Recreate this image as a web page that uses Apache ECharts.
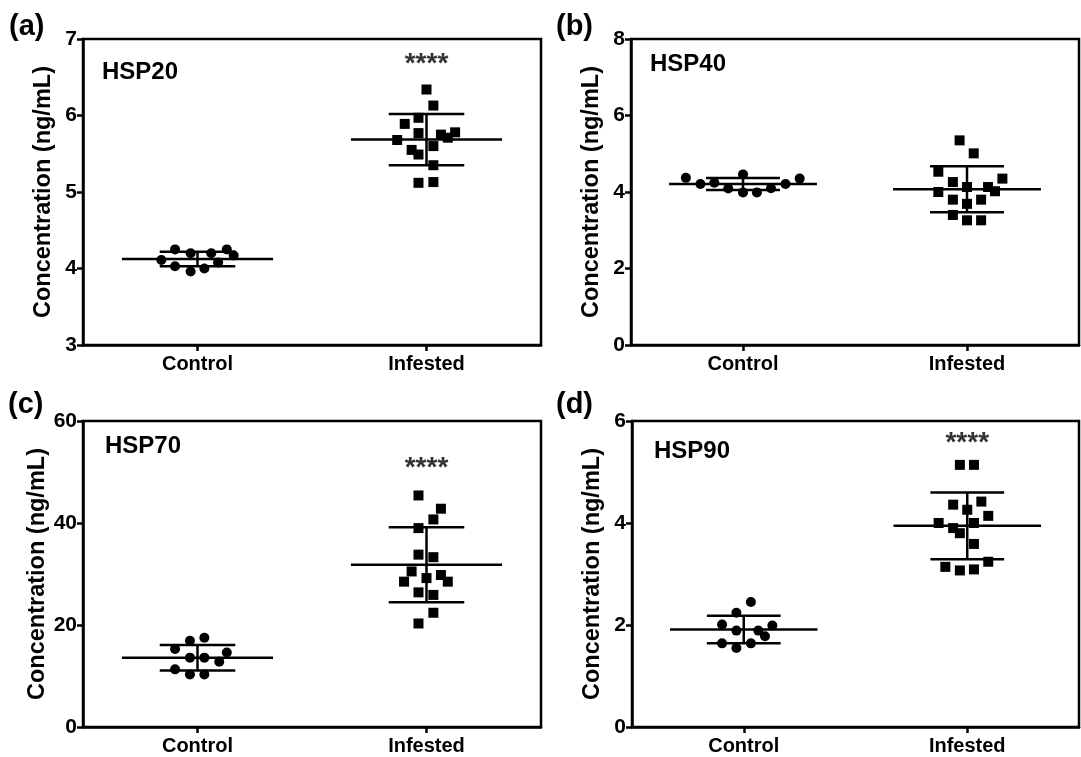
<!DOCTYPE html>
<html><head><meta charset="utf-8">
<script src="https://cdn.jsdelivr.net/npm/echarts@6/dist/echarts.min.js"></script>
<style>html,body{margin:0;padding:0;background:#fff}#c{width:1081px;height:757px}</style>
</head><body><div id="c"></div>
<script>
const categories = ['Control', 'Infested'];
const panelLabels = ['(a)', '(b)', '(c)', '(d)'];
const proteinNames = ['HSP20', 'HSP40', 'HSP70', 'HSP90'];
const yMins = [3, 0, 0, 0];
const yMaxs = [7, 8, 60, 6];
const yIntervals = [1, 2, 20, 2];
const yAxisTitle = 'Concentration (ng/mL)';

// HSP20
const hsp20Control = [4.25, 4.20, 4.20, 4.25, 4.17, 4.11, 4.03, 3.96, 4.00, 4.08];
const hsp20ControlJitter = [-0.098, -0.03, 0.06, 0.128, 0.158, -0.158, -0.098, -0.03, 0.03, 0.09];
const hsp20Infested = [6.34, 6.13, 5.97, 5.89, 5.77, 5.75, 5.78, 5.71, 5.68, 5.60, 5.55, 5.49, 5.35, 5.12, 5.13];
const hsp20InfestedJitter = [0, 0.03, -0.035, -0.095, -0.035, 0.063, 0.125, 0.093, -0.128, 0.03, -0.065, -0.035, 0.03, -0.035, 0.03];
const hsp20Mean = [4.125, 5.685];
const hsp20SD = [0.095, 0.335];

// HSP40
const hsp40Control = [4.37, 4.21, 4.24, 4.09, 4.46, 3.99, 3.99, 4.10, 4.21, 4.35];
const hsp40ControlJitter = [-0.255, -0.19, -0.128, -0.066, 0, 0, 0.062, 0.125, 0.19, 0.253];
const hsp40Infested = [5.35, 5.01, 4.53, 4.26, 4.35, 4.13, 4.13, 4.00, 4.02, 3.80, 3.80, 3.69, 3.40, 3.26, 3.26];
const hsp40InfestedJitter = [-0.033, 0.03, -0.128, -0.063, 0.158, 0, 0.094, -0.128, 0.125, -0.063, 0.063, 0, -0.063, 0, 0.063];
const hsp40Mean = [4.21, 4.07];
const hsp40SD = [0.155, 0.60];

// HSP70
const hsp70Control = [16.9, 17.5, 15.3, 14.6, 13.6, 13.6, 12.8, 11.3, 10.3, 10.3];
const hsp70ControlJitter = [-0.033, 0.03, -0.098, 0.128, -0.033, 0.03, 0.095, -0.098, -0.033, 0.03];
const hsp70Infested = [45.4, 42.8, 40.7, 39.0, 33.8, 33.3, 30.5, 29.8, 28.5, 29.2, 28.5, 26.4, 25.9, 22.4, 20.3];
const hsp70InfestedJitter = [-0.035, 0.063, 0.03, -0.035, -0.035, 0.03, -0.065, 0.063, -0.098, 0, 0.093, -0.035, 0.03, 0.03, -0.035];
const hsp70Mean = [13.6, 31.8];
const hsp70SD = [2.5, 7.35];

// HSP90
const hsp90Control = [2.45, 2.24, 2.01, 1.99, 1.89, 1.89, 1.78, 1.64, 1.64, 1.55];
const hsp90ControlJitter = [0.032, -0.033, -0.097, 0.128, -0.033, 0.065, 0.095, -0.097, 0.032, -0.033];
const hsp90Infested = [5.14, 5.14, 4.36, 4.42, 4.26, 4.14, 4.00, 4.00, 3.90, 3.80, 3.59, 3.24, 3.14, 3.07, 3.09];
const hsp90InfestedJitter = [-0.033, 0.03, -0.063, 0.063, 0, 0.094, -0.128, 0.03, -0.063, -0.033, 0.03, 0.094, -0.098, -0.033, 0.03];
const hsp90Mean = [1.91, 3.945];
const hsp90SD = [0.27, 0.655];

const sigLabels = ['****', '', '****', '****'];
const sigY = [6.74, null, 51.8, 5.67];

const panels = [
  {ctrl: hsp20Control, cj: hsp20ControlJitter, inf: hsp20Infested, ij: hsp20InfestedJitter, mean: hsp20Mean, sd: hsp20SD},
  {ctrl: hsp40Control, cj: hsp40ControlJitter, inf: hsp40Infested, ij: hsp40InfestedJitter, mean: hsp40Mean, sd: hsp40SD},
  {ctrl: hsp70Control, cj: hsp70ControlJitter, inf: hsp70Infested, ij: hsp70InfestedJitter, mean: hsp70Mean, sd: hsp70SD},
  {ctrl: hsp90Control, cj: hsp90ControlJitter, inf: hsp90Infested, ij: hsp90InfestedJitter, mean: hsp90Mean, sd: hsp90SD}
];

const FONT = '"Liberation Sans", Arial, sans-serif';
const gridBoxes = [
  {left: 83, top: 39, width: 458, height: 306},
  {left: 631, top: 39, width: 448, height: 306},
  {left: 83, top: 421, width: 458, height: 306},
  {left: 632, top: 421, width: 447, height: 306}
];
const panelLabelPos = [[9, 27], [556, 27], [8, 405], [556, 405]];
const namePos = [[102, 72], [650, 64], [105, 446], [654, 451]];

function errRender(params, api) {
  const c = api.value(0), m = api.value(1), s = api.value(2);
  const segs = [
    [[c - 0.33, m], [c + 0.33, m]],
    [[c - 0.165, m + s], [c + 0.165, m + s]],
    [[c - 0.165, m - s], [c + 0.165, m - s]],
    [[c, m - s], [c, m + s]]
  ];
  return {
    type: 'group',
    children: segs.map(sg => {
      const a = api.coord(sg[0]), b = api.coord(sg[1]);
      return {type: 'line', shape: {x1: a[0], y1: a[1], x2: b[0], y2: b[1]},
        style: {stroke: '#000', lineWidth: 2.5, fill: null}};
    })
  };
}

const grid = [], xAxis = [], yAxis = [], series = [], graphic = [];
panels.forEach((p, i) => {
  grid.push(Object.assign({show: true, borderColor: '#000', borderWidth: 2.5, backgroundColor: 'transparent'}, gridBoxes[i]));
  xAxis.push({
    type: 'value', gridIndex: i, min: -0.5, max: 1.5,
    axisLine: {show: true, onZero: false, lineStyle: {color: '#000', width: 2.5}},
    axisTick: {show: true, customValues: [0, 1], length: 6, lineStyle: {color: '#000', width: 2.5}},
    axisLabel: {show: true, customValues: [0, 1], formatter: v => categories[Math.round(v)],
      color: '#000', fontFamily: FONT, fontWeight: 'bold', fontSize: 20, margin: 9},
    splitLine: {show: false}
  });
  yAxis.push({
    type: 'value', gridIndex: i, min: yMins[i], max: yMaxs[i], interval: yIntervals[i],
    axisLine: {show: true, onZero: false, lineStyle: {color: '#000', width: 2.5}},
    axisTick: {show: true, length: 6, lineStyle: {color: '#000', width: 2.5}},
    axisLabel: {color: '#000', fontFamily: FONT, fontWeight: 'bold', fontSize: 21, margin: 6},
    splitLine: {show: false},
    name: yAxisTitle, nameLocation: 'middle', nameGap: 27,
    nameTextStyle: {color: '#000', fontFamily: FONT, fontWeight: 'bold', fontSize: 23.5}
  });
  series.push({
    type: 'scatter', xAxisIndex: i, yAxisIndex: i, symbol: 'circle', symbolSize: 10,
    itemStyle: {color: '#000', opacity: 1}, silent: true,
    data: p.ctrl.map((v, k) => [0 + p.cj[k], v])
  });
  series.push({
    type: 'scatter', xAxisIndex: i, yAxisIndex: i, symbol: 'rect', symbolSize: 10,
    itemStyle: {color: '#000', opacity: 1}, silent: true,
    data: p.inf.map((v, k) => [1 + p.ij[k], v])
  });
  series.push({
    type: 'custom', xAxisIndex: i, yAxisIndex: i, renderItem: errRender, silent: true, z: 3,
    data: [[0, p.mean[0], p.sd[0]], [1, p.mean[1], p.sd[1]]]
  });
  if (sigLabels[i]) {
    series.push({
      type: 'scatter', xAxisIndex: i, yAxisIndex: i, symbol: 'circle', symbolSize: 1,
      itemStyle: {color: 'rgba(0,0,0,0)'}, silent: true,
      label: {show: true, position: 'inside', formatter: sigLabels[i], color: '#000',
        textBorderWidth: 0, fontFamily: FONT, fontWeight: 'bold', fontSize: 28, offset: [0, 5]},
      data: [[1, sigY[i]]]
    });
  }
  graphic.push({type: 'text', style: {text: panelLabels[i], x: panelLabelPos[i][0], y: panelLabelPos[i][1],
    textAlign: 'left', textVerticalAlign: 'middle', font: 'bold 29px ' + FONT, fill: '#000'}});
  graphic.push({type: 'text', style: {text: proteinNames[i], x: namePos[i][0], y: namePos[i][1],
    textAlign: 'left', textVerticalAlign: 'middle', font: 'bold 24px ' + FONT, fill: '#000'}});
});

const chart = echarts.init(document.getElementById('c'), null, {renderer: 'canvas'});
chart.setOption({animation: false, backgroundColor: '#fff', grid, xAxis, yAxis, series, graphic});
</script></body></html>
